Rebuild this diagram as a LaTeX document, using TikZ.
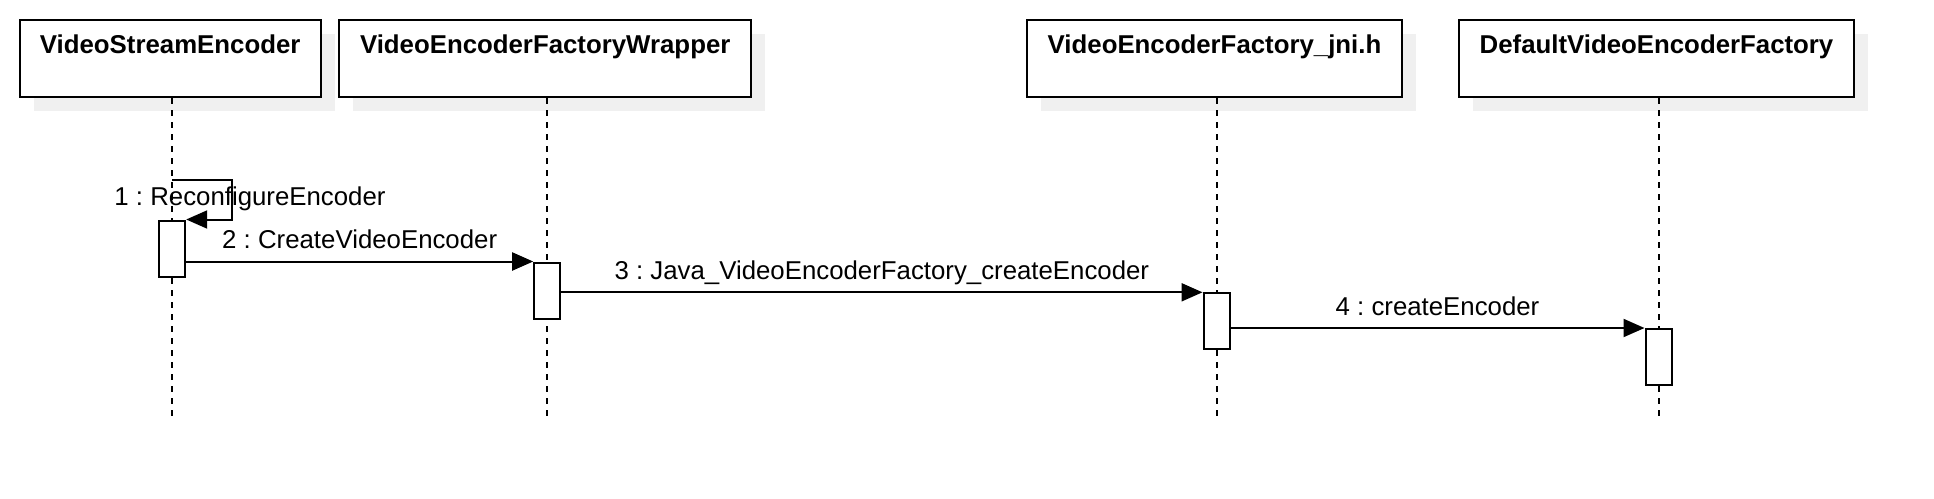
\documentclass[tikz,border=0pt]{standalone}
\usepackage{fontspec}
\setmainfont{Liberation Sans}
\usepackage{tikz}
\usetikzlibrary{arrows.meta,shadows}

\definecolor{shadowgray}{HTML}{F0F0F0}
\frenchspacing

\begin{document}
\begin{tikzpicture}[x=1pt,y=-1pt,
  every node/.style={font=\fontsize{25.8}{31}\selectfont},
  obj/.style={draw,line width=2pt,fill=white,inner sep=0pt,minimum height=77.7pt,
              text height=33.8pt,text depth=43.9pt,font=\fontsize{25.8}{31}\selectfont\bfseries,
              drop shadow={shadow xshift=14pt,shadow yshift=-14pt,fill=shadowgray,opacity=1}},
  life/.style={line width=2pt,dash pattern=on 6pt off 6pt},
  act/.style={draw,line width=2pt,fill=white,inner sep=0pt,minimum width=26pt,minimum height=56pt,anchor=north},
  msg/.style={line width=2pt,-{Triangle[length=21pt,width=18pt]}},
  lbl/.style={anchor=base,yshift=13pt}]

  \useasboundingbox (0,0) rectangle (1934,498);

  \node[obj,minimum width=301pt] (vse)  at (170.2,58.55)  {VideoStreamEncoder};
  \node[obj,minimum width=412pt] (wrap) at (545.2,58.55)  {VideoEncoderFactoryWrapper};
  \node[obj,minimum width=375pt] (jni)  at (1214.5,58.55) {VideoEncoderFactory\_jni.h};
  \node[obj,minimum width=395pt] (dvef) at (1656.5,58.55) {DefaultVideoEncoderFactory};

  % lifelines
  \coordinate (bot) at (0,417);
  \coordinate (lvse)  at ([xshift=2pt]vse.south);
  \coordinate (lwrap) at ([xshift=2pt]wrap.south);
  \coordinate (ljni)  at ([xshift=2pt]jni.south);
  \coordinate (ldvef) at ([xshift=2pt]dvef.south);
  \foreach \o in {lvse,lwrap,ljni,ldvef}
    \draw[life] (\o) -- (\o |- bot);

  \node[act] (a1) at (lvse |- 0,219.5)  {};
  \node[act] (a2) at (lwrap |- 0,261.5) {};
  \node[act] (a3) at (ljni |- 0,292.3)  {};
  \node[act] (a4) at (ldvef |- 0,328)   {};

  % self call
  \coordinate (loop) at (232,179.5);
  \draw[msg] (lvse |- loop) -- (loop) |- (a1.north east);
  \node[anchor=base] (m1) at (250,205.5) {1 : ReconfigureEncoder};

  \draw[msg] (a2.north west -| a1.east) -- node[lbl]{2 : CreateVideoEncoder} (a2.north west);
  \draw[msg] (a3.north west -| a2.east) -- node[lbl]{3 : Java\_VideoEncoderFactory\_createEncoder} (a3.north west);
  \draw[msg] (a4.north west -| a3.east) -- node[lbl]{4 : createEncoder} (a4.north west);
\end{tikzpicture}
\end{document}
